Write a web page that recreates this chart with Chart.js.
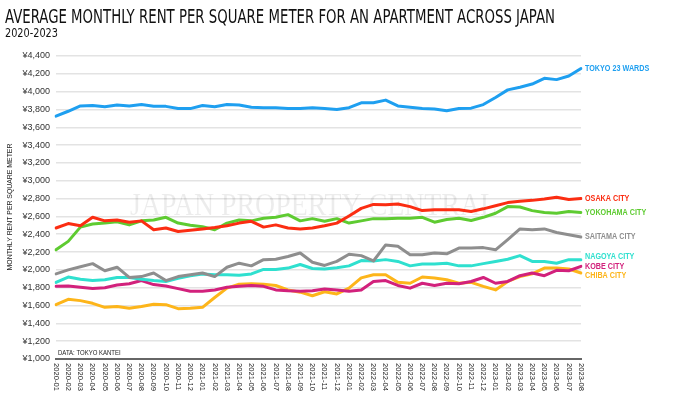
<!DOCTYPE html>
<html>
<head>
<meta charset="utf-8">
<title>Average monthly rent per square meter</title>
<script src="https://cdn.jsdelivr.net/npm/chart.js@4.4.1/dist/chart.umd.min.js"></script>
<style>
  html, body { margin: 0; padding: 0; background: #fff; }
  #wrap { position: relative; width: 684px; height: 396px; overflow: hidden; }
  #chart { position: absolute; left: 0; top: 0; }
  .head { position: absolute; left: 5px; white-space: nowrap; color: #111; line-height: 1;
          font-family: "Liberation Sans Narrow", "DejaVu Sans Condensed", "Liberation Sans", sans-serif;
          transform-origin: 0 0; }
  #title { top: 7px; font-size: 19px; }
  #subtitle { top: 26px; font-size: 13px; }
</style>
</head>
<body>
<div id="wrap">
  <canvas id="chart" width="684" height="396"></canvas>
  <div id="title" class="head">AVERAGE MONTHLY RENT PER SQUARE METER FOR AN APARTMENT ACROSS JAPAN</div>
  <div id="subtitle" class="head">2020-2023</div>
</div>
<script>
// months 2020-01 .. 2023-08
const months = [
  '2020-01','2020-02','2020-03','2020-04','2020-05','2020-06','2020-07','2020-08','2020-09','2020-10','2020-11','2020-12',
  '2021-01','2021-02','2021-03','2021-04','2021-05','2021-06','2021-07','2021-08','2021-09','2021-10','2021-11','2021-12',
  '2022-01','2022-02','2022-03','2022-04','2022-05','2022-06','2022-07','2022-08','2022-09','2022-10','2022-11','2022-12',
  '2023-01','2023-02','2023-03','2023-04','2023-05','2023-06','2023-07','2023-08'
];

// yen per square meter
const tokyo = [3725,3780,3840,3845,3830,3850,3840,3855,3835,3835,3810,3810,3845,3830,3855,3850,3825,3820,3820,3810,3810,3820,
               3810,3800,3820,3875,3875,3905,3840,3825,3810,3805,3785,3810,3815,3855,3935,4020,4050,4085,4150,4135,4175,4260];
const osaka = [2470,2520,2495,2590,2550,2560,2535,2550,2450,2470,2430,2445,2460,2475,2495,2525,2545,2480,2505,2470,2460,2470,
               2495,2525,2605,2690,2735,2730,2740,2710,2665,2675,2675,2675,2655,2685,2720,2755,2770,2780,2795,2815,2790,2800];
const yokohama = [2225,2320,2480,2515,2525,2540,2505,2550,2560,2590,2525,2500,2485,2450,2525,2560,2550,2580,2590,2620,2550,2575,
                  2545,2575,2525,2550,2575,2575,2580,2580,2590,2535,2565,2580,2555,2590,2635,2710,2705,2665,2645,2635,2655,2645];
const saitama = [1955,2000,2035,2070,1990,2030,1915,1925,1965,1880,1925,1945,1965,1925,2030,2075,2045,2115,2120,2150,2190,2085,
                 2050,2095,2175,2160,2100,2280,2265,2170,2170,2190,2180,2245,2245,2250,2225,2340,2460,2450,2460,2420,2395,2370];
const nagoya = [1860,1920,1895,1880,1890,1915,1915,1895,1880,1870,1905,1935,1955,1945,1945,1940,1955,2005,2005,2020,2060,2015,
                2010,2025,2045,2105,2100,2115,2095,2045,2065,2065,2075,2045,2045,2070,2095,2120,2160,2095,2095,2075,2115,2115];
const kobe = [1815,1820,1805,1790,1800,1830,1845,1880,1835,1820,1790,1760,1760,1775,1805,1815,1825,1815,1775,1765,1760,1765,
              1785,1775,1760,1775,1870,1880,1825,1795,1850,1825,1850,1845,1870,1915,1850,1870,1935,1965,1935,1995,1990,2040];
const chiba = [1610,1670,1655,1625,1580,1590,1570,1590,1615,1610,1565,1570,1580,1690,1795,1840,1845,1840,1825,1775,1750,1710,
               1755,1730,1795,1910,1945,1945,1860,1850,1920,1910,1890,1850,1860,1815,1775,1870,1925,1955,2020,2020,2010,1965];

const cityNames = ['TOKYO 23 WARDS','OSAKA CITY','YOKOHAMA CITY','SAITAMA CITY','NAGOYA CITY','KOBE CITY','CHIBA CITY'];
const cityColors = ['#1e9ff0','#fb2d12','#5ecb31','#8e8e8e','#2fe0cf','#d2217c','#fdb51a'];
const citySeries = [tokyo, osaka, yokohama, saitama, nagoya, kobe, chiba];

// draw text squeezed horizontally (the source uses a condensed face)
function squeezed(ctx, text, x, y, sx, rot) {
  ctx.save();
  ctx.translate(x, y);
  if (rot) ctx.rotate(rot);
  ctx.scale(sx, 1);
  ctx.fillText(text, 0, 0);
  ctx.restore();
}

const decorations = {
  id: 'decorations',
  beforeDatasetsDraw(chart) {
    const ctx = chart.ctx;
    const area = chart.chartArea;
    // watermark
    ctx.save();
    ctx.font = '32px "Liberation Serif", "DejaVu Serif", serif';
    ctx.fillStyle = 'rgba(0,0,0,0.075)';
    ctx.textBaseline = 'alphabetic';
    ctx.textAlign = 'left';
    const wm = 'JAPAN PROPERTY CENTRAL';
    const w = ctx.measureText(wm).width;
    squeezed(ctx, wm, 130, 215, 367 / w);
    ctx.restore();
  },
  afterDatasetsDraw(chart) {
    const ctx = chart.ctx;
    const xs = chart.scales.x;
    const area = chart.chartArea;

    // x tick labels, turned clockwise
    ctx.save();
    ctx.fillStyle = '#222';
    ctx.font = '8px "Liberation Sans", Arial, sans-serif';
    ctx.textAlign = 'left';
    ctx.textBaseline = 'middle';
    months.forEach((m, i) => {
      const x = xs.getPixelForTick(i);
      squeezed(ctx, m, x, area.bottom + 4, 0.95, Math.PI / 2);
    });
    ctx.restore();

    // y axis title
    ctx.save();
    ctx.fillStyle = '#222';
    ctx.font = '8px "Liberation Sans", Arial, sans-serif';
    ctx.textAlign = 'center';
    ctx.textBaseline = 'middle';
    squeezed(ctx, 'MONTHLY RENT PER SQUARE METER', 10, 207, 0.86, -Math.PI / 2);
    ctx.restore();

    // source note
    ctx.save();
    ctx.fillStyle = '#222';
    ctx.font = '8px "Liberation Sans", Arial, sans-serif';
    ctx.textAlign = 'left';
    ctx.textBaseline = 'alphabetic';
    squeezed(ctx, 'DATA: TOKYO KANTEI', area.left + 2, area.bottom - 4, 0.75);
    ctx.restore();

    // end-of-line labels, spread apart where they collide
    const items = chart.data.datasets.map((ds, i) => {
      const pts = chart.getDatasetMeta(i).data;
      const p = pts[pts.length - 1];
      return { text: ds.label, color: ds.borderColor, x: p.x, y0: p.y, y: p.y };
    }).sort((a, b) => a.y0 - b.y0);
    const gap = 9.5;
    let groups = items.map(it => [it]);
    let merged = true;
    while (merged) {
      merged = false;
      for (const g of groups) {
        const mean = g.reduce((s, it) => s + it.y0, 0) / g.length;
        g.forEach((it, k) => { it.y = mean + (k - (g.length - 1) / 2) * gap; });
      }
      for (let i = 1; i < groups.length; i++) {
        const a = groups[i - 1], b = groups[i];
        if (b[0].y - a[a.length - 1].y < gap) {
          groups.splice(i - 1, 2, a.concat(b));
          merged = true;
          break;
        }
      }
    }
    ctx.save();
    ctx.font = 'bold 9px "Liberation Sans", Arial, sans-serif';
    ctx.textAlign = 'left';
    ctx.textBaseline = 'middle';
    items.forEach(it => {
      ctx.fillStyle = it.color;
      squeezed(ctx, it.text, it.x + 4, it.y, 0.8);
    });
    ctx.restore();
  }
};

const fitHead = (id, w) => {
  const el = document.getElementById(id);
  el.style.transform = 'scaleX(' + (w / el.getBoundingClientRect().width) + ')';
};
fitHead('title', 550);
fitHead('subtitle', 53);

new Chart(document.getElementById('chart'), {
  type: 'line',
  data: {
    labels: months,
    datasets: cityNames.map((name, i) => ({
      label: name,
      data: citySeries[i],
      borderColor: cityColors[i],
      backgroundColor: cityColors[i],
      borderWidth: 3,
      pointRadius: 0,
      tension: 0,
      fill: false
    }))
  },
  options: {
    responsive: false,
    animation: false,
    layout: { padding: { top: 56, right: 103, bottom: 0, left: 0 } },
    plugins: { legend: { display: false }, tooltip: { enabled: false } },
    elements: { line: { borderJoinStyle: 'round', borderCapStyle: 'round' } },
    scales: {
      x: {
        offset: false,
        grid: { display: false },
        border: { display: true, color: '#666', width: 2 },
        ticks: { display: false },
        afterFit(s) { s.height = 37; }
      },
      y: {
        min: 1000,
        max: 4400,
        ticks: {
          stepSize: 200,
          padding: 6,
          color: '#333',
          font: { family: '"Liberation Sans", Arial, sans-serif', size: 9 },
          callback: v => '¥' + v.toLocaleString('en-US')
        },
        grid: { color: '#e3e3e3', lineWidth: 1.5, drawTicks: false },
        border: { display: false },
        afterFit(s) { s.width = 56; }
      }
    }
  },
  plugins: [decorations]
});
</script>
</body>
</html>
